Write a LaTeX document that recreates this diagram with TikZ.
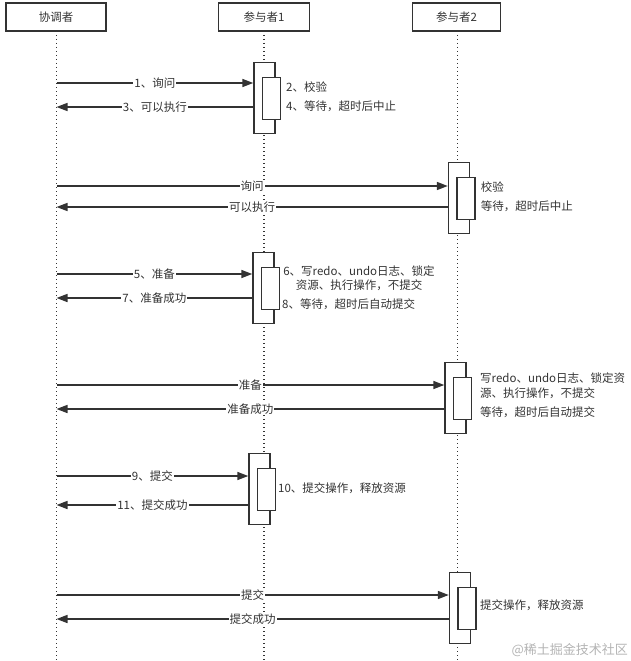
\documentclass[tikz,border=0pt]{standalone}
\usepackage{fontspec}
\setmainfont{Noto Sans CJK SC}
\usetikzlibrary{arrows.meta,positioning}
\definecolor{linec}{HTML}{333333}
\definecolor{markc}{HTML}{B4B4B4}
\begin{document}
\begin{tikzpicture}[x=1pt, y=-1pt, font=\fontsize{11.5}{14}\selectfont, text=linec,
    header/.style={draw=linec, line width=1.3pt, minimum height=28pt, inner sep=0pt},
    lifeline/.style={linec, line width=1.4pt, dash pattern=on 1.4pt off 2.6pt},
    actbar/.style={draw=linec, fill=white, line width=1.4pt, minimum width=21pt, minimum height=71pt, inner sep=0pt},
    actinner/.style={draw=linec, fill=white, line width=1.4pt, minimum width=18pt, minimum height=42pt, inner sep=0pt},
    msg/.style={draw=linec, line width=1.6pt, -{Triangle[length=11pt, width=8pt]}},
    msglabel/.style={fill=white, inner sep=1pt, midway},
    note/.style={anchor=west, inner sep=0pt}]
    \useasboundingbox (0,0) rectangle (631,661);

    % Participants and lifelines
    \node[header, minimum width=100pt] (coord) at (56,17) {协调者};
    \node[header, minimum width=91pt] (p1) at (264,17) {参与者1};
    \node[header, minimum width=88pt] (p2) at (456.5,17) {参与者2};
    \draw[lifeline] (56.5,31) -- (56.5,661);
    \draw[lifeline] (264,31) -- (264,661);
    \draw[lifeline] (457.5,31) -- (457.5,661);

    % Activation bars: name/centre x/top y
    \foreach \n/\x/\t in {aa/264.5/62, ab/459/162, ac/263.5/252, ad/455.5/362, ae/259.5/453, af/460/572} {
        \node[actbar, anchor=north] (\n) at (\x,\t) {};
        \node[actinner, anchor=north] (\n in) at ([xshift=7pt, yshift=-15pt]\n.north) {};
    }

    % Messages: bar/out y/back y/out label/back label
    \foreach \n/\ya/\yb/\la/\lb in {aa/83/107/1、询问/3、可以执行, ab/186/207/询问/可以执行,
            ac/274/298/5、准备/7、准备成功, ad/385/409/准备/准备成功,
            ae/476/505/9、提交/11、提交成功, af/595/619/提交/提交成功} {
        \coordinate (\n out) at (56.5,\ya);
        \coordinate (\n back) at (56.5,\yb);
        \draw[msg] (\n out) -- (\n.west |- \n out) node[msglabel] {\la};
        \draw[msg] (\n.west |- \n back) -- (\n back) node[msglabel] {\lb};
    }

    % Notes beside the bars
    \node[note] at (286,87) {2、校验};
    \node[note] at (286,106) {4、等待，超时后中止};
    \node[note] at (480.6,186.7) {校验};
    \node[note] at (480.6,206.7) {等待，超时后中止};
    \node[inner sep=0pt, align=center] at (359,278) {6、写redo、undo日志、锁定\\资源、执行操作，不提交};
    \node[note] at (282,304) {8、等待，超时后自动提交};
    \node[note, align=left, font=\fontsize{11.5}{15.5}\selectfont] at (480,385.5) {写redo、undo日志、锁定资\\源、执行操作，不提交};
    \node[note] at (480,412.7) {等待，超时后自动提交};
    \node[note] at (278,488) {10、提交操作，释放资源};
    \node[note] at (480,605) {提交操作，释放资源};

    \node[anchor=east, inner sep=0pt, text=markc, font=\fontsize{13}{15}\selectfont] at (628,650) {@稀土掘金技术社区};
\end{tikzpicture}
\end{document}
